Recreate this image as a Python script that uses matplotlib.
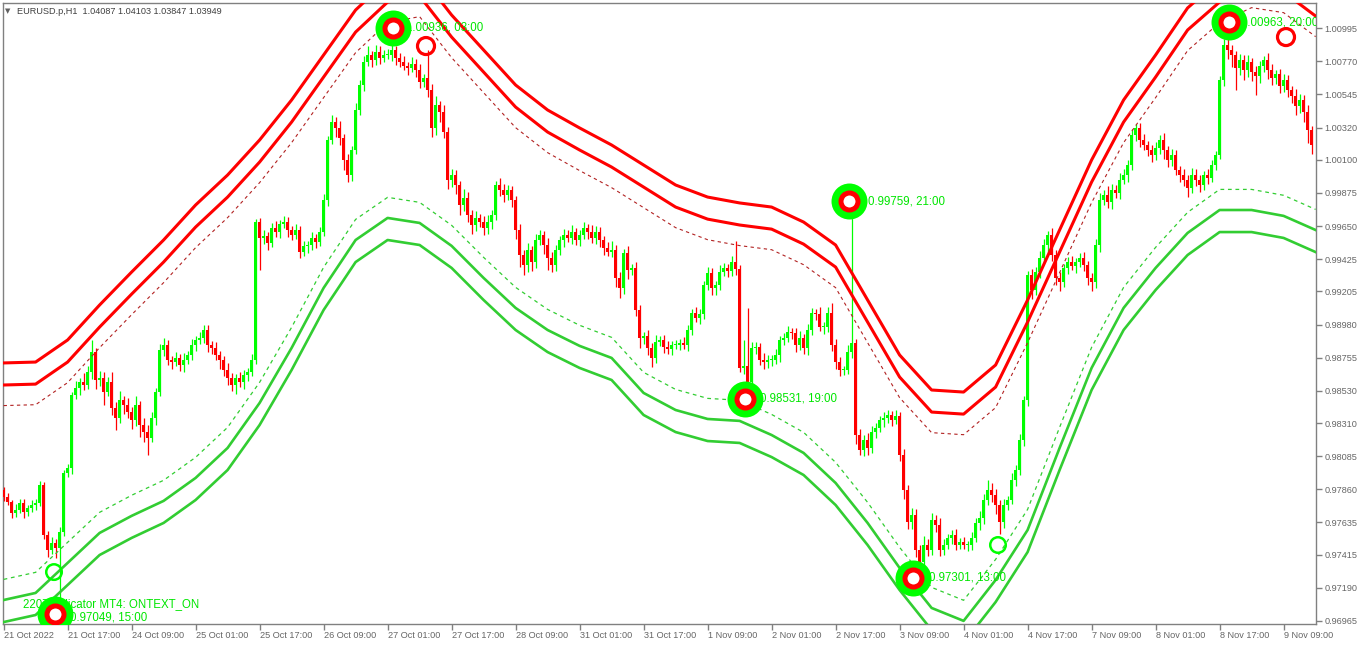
import matplotlib
matplotlib.use("Agg")
import matplotlib.pyplot as plt

# EURUSD H1 closes, one per bar starting 21 Oct 2022 01:00
closes = [
    0.97807, 0.97773, 0.97699, 0.97719, 0.97767, 0.97705, 0.97733, 0.97753, 0.97767, 0.97889, 0.97549, 0.97447, 0.97495, 0.97461, 0.97569, 0.97971,
    0.98005, 0.98501, 0.98549, 0.98589, 0.98569, 0.98657, 0.98793, 0.98603, 0.98617, 0.98521, 0.98589, 0.98413, 0.98345, 0.98467, 0.98433, 0.98385,
    0.98331, 0.98433, 0.98297, 0.98249, 0.98209, 0.98345, 0.98521, 0.98807, 0.98841, 0.98739, 0.98725, 0.98753, 0.98705, 0.98739, 0.98773, 0.98841,
    0.98875, 0.98889, 0.98943, 0.98841, 0.98821, 0.98773, 0.98739, 0.98671, 0.98617, 0.98569, 0.98617, 0.98589, 0.98637, 0.98657, 0.98739, 0.99677,
    0.99569, 0.99582, 0.99535, 0.99637, 0.99609, 0.99664, 0.99677, 0.99623, 0.99589, 0.99623, 0.99473, 0.99514, 0.99521, 0.99569, 0.99541, 0.99609,
    0.99827, 1.00235, 1.00357, 1.00317, 1.00249, 1.00099, 0.99997, 1.00167, 1.00439, 1.00609, 1.00765, 1.00813, 1.00779, 1.00833, 1.00793, 1.00813,
    1.00813, 1.00847, 1.00793, 1.00765, 1.00738, 1.00725, 1.00752, 1.00711, 1.00629, 1.00657, 1.00575, 1.00317, 1.00473, 1.00425, 1.00289, 0.99963,
    0.99997, 0.99929, 0.99793, 0.99841, 0.99725, 0.99657, 0.99705, 0.99677, 0.99637, 0.99677, 0.99725, 0.99929, 0.99895, 0.99861, 0.99895, 0.99827,
    0.99623, 0.99453, 0.99385, 0.99487, 0.99405, 0.99555, 0.99589, 0.99521, 0.99433, 0.99385, 0.99487, 0.99555, 0.99589, 0.99569, 0.99609, 0.99555,
    0.99589, 0.99637, 0.99609, 0.99569, 0.99609, 0.99555, 0.99501, 0.99473, 0.99487, 0.99297, 0.99229, 0.99467, 0.99351, 0.99365, 0.99079, 0.98889,
    0.98902, 0.98821, 0.98753, 0.98861, 0.98875, 0.98827, 0.98814, 0.98841, 0.98841, 0.98855, 0.98841, 0.98943, 0.99059, 0.99025, 0.99052, 0.99249,
    0.99331, 0.99229, 0.99249, 0.99337, 0.99365, 0.99344, 0.99405, 0.99358, 0.98685, 0.98698, 0.98589, 0.98821, 0.98827, 0.98739, 0.98725, 0.98739,
    0.98739, 0.98773, 0.98875, 0.98889, 0.98929, 0.98923, 0.98841, 0.98889, 0.98821, 0.98943, 0.99059, 0.99052, 0.98963, 0.98963, 0.99059, 0.98841,
    0.98725, 0.98671, 0.98671, 0.98793, 0.98855, 0.98229, 0.98127, 0.98195, 0.98141, 0.98249, 0.98277, 0.98331, 0.98345, 0.98365, 0.98331, 0.98358,
    0.98093, 0.97855, 0.97637, 0.97685, 0.97447, 0.97365, 0.97481, 0.97447, 0.97651, 0.97617, 0.97447, 0.97481, 0.97529, 0.97549, 0.97481, 0.97501,
    0.97481, 0.97481, 0.97529, 0.97631, 0.97665, 0.97787, 0.97855, 0.97821, 0.97753, 0.97637, 0.97753, 0.97787, 0.97923, 0.97991, 0.98195, 0.98467,
    0.99317, 0.99215, 0.99337, 0.99433, 0.99521, 0.99589, 0.99453, 0.99297, 0.99269, 0.99365, 0.99405, 0.99378, 0.99405, 0.99433, 0.99385, 0.99297,
    0.99269, 0.99521, 0.99827, 0.99861, 0.99813, 0.99895, 0.99875, 0.99963, 0.99997, 1.00065, 1.00269, 1.00317, 1.00235, 1.00201, 1.00167, 1.00133,
    1.00181, 1.00235, 1.00167, 1.00099, 1.00133, 1.00031, 0.99997, 0.99963, 0.99909, 0.99997, 0.99963, 0.99929, 0.99997, 0.99977, 1.00065, 1.00133,
    1.00643, 1.00881, 1.00847, 1.00813, 1.00725, 1.00779, 1.00711, 1.00765, 1.00697, 1.00670, 1.00738, 1.00779, 1.00711, 1.00657, 1.00684, 1.00602,
    1.00643, 1.00575, 1.00534, 1.00466, 1.00507, 1.00425, 1.00303, 1.00201,
]
first_open = 0.97855

# wick lengths in points (0.00001)
upper_wick = [
    20, 30, 15, 40, 25, 30, 20, 35, 30, 25, 20, 30, 40, 25, 35, 20,
    30, 20, 45, 30, 60, 40, 82, 30, 50, 40, 35, 70, 40, 60, 30, 45,
    35, 60, 30, 50, 45, 40, 30, 40, 50, 35, 30, 40, 25, 45, 30, 40,
    30, 40, 34, 35, 30, 40, 25, 30, 45, 35, 30, 40, 35, 30, 40, 20,
    30, 40, 25, 35, 45, 30, 40, 35, 30, 40, 30, 35, 30, 40, 30, 35,
    40, 30, 50, 35, 45, 30, 40, 30, 45, 35, 40, 60, 30, 50, 40, 35,
    40, 88, 30, 35, 40, 30, 45, 35, 40, 30, 190, 40, 60, 30, 50, 35,
    40, 35, 30, 60, 40, 35, 45, 30, 40, 50, 35, 30, 45, 40, 35, 30,
    30, 40, 35, 45, 30, 40, 35, 30, 45, 40, 35, 30, 40, 35, 45, 30,
    35, 40, 30, 45, 40, 35, 30, 40, 60, 35, 40, 30, 45, 30, 40, 35,
    30, 40, 35, 45, 30, 35, 40, 30, 35, 30, 40, 35, 30, 40, 35, 30,
    40, 35, 30, 45, 35, 30, 40, 143, 30, 180, 394, 40, 35, 30, 45, 35,
    35, 40, 30, 35, 40, 30, 35, 45, 30, 40, 35, 30, 50, 35, 40, 70,
    40, 35, 30, 45, 904, 30, 40, 35, 45, 40, 35, 30, 40, 35, 30, 40,
    30, 40, 35, 45, 40, 35, 60, 40, 50, 35, 45, 40, 30, 35, 40, 30,
    35, 30, 40, 35, 45, 40, 70, 45, 40, 35, 40, 30, 45, 35, 40, 30,
    30, 40, 35, 45, 40, 30, 45, 35, 40, 30, 35, 40, 30, 35, 40, 30,
    35, 40, 45, 35, 60, 40, 35, 45, 40, 35, 40, 30, 35, 40, 30, 35,
    40, 35, 45, 30, 40, 35, 30, 40, 35, 45, 40, 35, 30, 40, 35, 30,
    30, 40, 82, 35, 30, 40, 35, 45, 30, 40, 35, 30, 45, 40, 30, 35,
    40, 35, 30, 45, 40, 35, 45, 30,
]
lower_wick = [
    25, 20, 35, 30, 20, 40, 30, 25, 35, 20, 30, 45, 25, 70, 374, 30,
    25, 40, 30, 50, 35, 30, 45, 60, 40, 90, 30, 50, 80, 35, 60, 40,
    60, 40, 80, 70, 116, 30, 45, 30, 40, 35, 50, 30, 40, 45, 30, 35,
    40, 30, 35, 50, 40, 35, 60, 40, 50, 40, 60, 35, 50, 40, 30, 25,
    218, 40, 50, 30, 35, 40, 30, 45, 35, 30, 40, 30, 45, 35, 40, 30,
    30, 40, 30, 60, 45, 70, 50, 40, 30, 35, 40, 30, 45, 35, 40, 30,
    30, 40, 50, 35, 30, 45, 30, 50, 40, 35, 45, 60, 50, 70, 40, 60,
    45, 60, 70, 40, 50, 60, 40, 35, 50, 40, 45, 35, 40, 50, 35, 45,
    60, 80, 70, 45, 60, 40, 35, 60, 80, 50, 40, 35, 45, 30, 40, 35,
    40, 30, 45, 35, 40, 50, 45, 30, 35, 60, 70, 40, 60, 35, 40, 70,
    40, 50, 60, 35, 30, 40, 35, 40, 30, 35, 30, 40, 35, 30, 40, 35,
    35, 45, 50, 35, 30, 40, 35, 40, 25, 40, 88, 30, 40, 35, 50, 40,
    40, 30, 45, 35, 30, 40, 50, 35, 40, 45, 35, 40, 30, 45, 35, 40,
    50, 40, 35, 30, 40, 60, 35, 40, 50, 35, 40, 30, 45, 35, 40, 30,
    40, 60, 50, 45, 50, 60, 55, 40, 35, 45, 40, 35, 30, 40, 35, 30,
    30, 40, 35, 30, 45, 40, 35, 50, 60, 80, 40, 35, 30, 40, 35, 40,
    40, 60, 35, 40, 30, 45, 40, 50, 60, 35, 40, 30, 45, 35, 40, 50,
    60, 40, 50, 35, 40, 45, 35, 40, 30, 45, 35, 40, 50, 35, 40, 45,
    35, 40, 60, 45, 40, 35, 50, 40, 60, 35, 40, 50, 35, 40, 30, 35,
    30, 40, 60, 80, 150, 50, 70, 45, 60, 130, 50, 40, 60, 45, 40, 50,
    40, 50, 45, 60, 50, 70, 90, 60,
]

# outer band lines, sampled every 8 bars
band_bars = list(range(0, 329, 8))
upper_band = [0.98719, 0.98725, 0.98875, 0.99113, 0.99337, 0.99555, 0.99793, 0.99997, 1.00235, 1.00507,
              1.00813, 1.01119, 1.01323, 1.01364, 1.01085, 1.00847, 1.00609, 1.00439, 1.00317, 1.00201,
              1.00065, 0.99929, 0.99847, 0.99807, 0.99779, 0.99677, 0.99521, 0.99147, 0.98773, 0.98535,
              0.98521, 0.98705, 0.99147, 0.99623, 1.00099, 1.00507, 1.00813, 1.01133, 1.01323, 1.01425,
              1.01391, 1.01228]
lower_band = [0.96957, 0.97005, 0.97209, 0.97413, 0.97529, 0.97631, 0.97787, 0.97991, 0.98297, 0.98671,
              0.99079, 0.99405, 0.99555, 0.99521, 0.99365, 0.99147, 0.98943, 0.98793, 0.98685, 0.98603,
              0.98365, 0.98249, 0.98188, 0.98175, 0.98079, 0.97957, 0.97753, 0.97481, 0.97175, 0.96903,
              0.96815, 0.97093, 0.97433, 0.97991, 0.98535, 0.98943, 0.99215, 0.99453, 0.99609, 0.99609,
              0.99569, 0.99473]
inner_gap = 0.00150
dotted_gap = 0.00290

# signal markers and their captions
sig_bar = [97.35, 211.35, 185.35, 227.35, 12.85, 306.35]
sig_price = [1.00997, 0.99820, 0.98474, 0.97257, 0.97012, 1.01037]
sig_text = ["1.00936, 03:00", "0.99759, 21:00", "0.98531, 19:00", "0.97301, 13:00",
            "0.97049, 15:00", "1.00963, 20:00"]
sig_text_bar = [100.6, 216.1, 189.1, 231.35, 16.6, 309.35]
sig_text_price = [1.00997, 0.99820, 0.98474, 0.97257, 0.96985, 1.01037]
red_ring_bar = [105.6, 320.6]
red_ring_price = [1.00874, 1.00935]
green_ring_bar = [12.6, 248.6]
green_ring_price = [0.97297, 0.97481]

tick_bars = list(range(0, 321, 16))
tick_labels = ["21 Oct 2022", "21 Oct 17:00", "24 Oct 09:00", "25 Oct 01:00", "25 Oct 17:00",
               "26 Oct 09:00", "27 Oct 01:00", "27 Oct 17:00", "28 Oct 09:00", "31 Oct 01:00",
               "31 Oct 17:00", "1 Nov 09:00", "2 Nov 01:00", "2 Nov 17:00", "3 Nov 09:00",
               "4 Nov 01:00", "4 Nov 17:00", "7 Nov 09:00", "8 Nov 01:00", "8 Nov 17:00", "9 Nov 09:00"]
price_labels = ["1.00995", "1.00770", "1.00545", "1.00320", "1.00100", "0.99875", "0.99650",
                "0.99425", "0.99205", "0.98980", "0.98755", "0.98530", "0.98310", "0.98085",
                "0.97860", "0.97635", "0.97415", "0.97190", "0.96965"]

plt.rcParams['font.family'] = ['Liberation Sans', 'DejaVu Sans']
GREEN = "#00ff00"
RED = "#ff0000"
LINE_GREEN = "#32cd32"
GRAY = "#808080"

fig = plt.figure(figsize=(13.62, 6.46), dpi=100)
ax = fig.add_axes([3 / 1362, 22 / 646, 1313 / 1362, 621.5 / 646])
ax.set_xlim(-0.15, 328.1)
ax.set_ylim(0.969438, 1.01170)

# candles
opens = [first_open] + closes[:-1]
for i, (o, c) in enumerate(zip(opens, closes)):
    col = GREEN if c >= o else RED
    hi = max(o, c) + upper_wick[i] / 1e5
    lo = min(o, c) - lower_wick[i] / 1e5
    ax.vlines(i, lo, hi, color=col, lw=0.9, zorder=3)
    ax.bar(i, max(abs(c - o), 0.00005), bottom=min(o, c), width=0.75,
           color=col, linewidth=0, zorder=3)

# bands
up_inner = [v - inner_gap for v in upper_band]
up_dot = [v - dotted_gap for v in upper_band]
lo_inner = [v + inner_gap for v in lower_band]
lo_dot = [v + dotted_gap for v in lower_band]
ax.plot(band_bars, upper_band, color=RED, lw=2.2, zorder=4)
ax.plot(band_bars, up_inner, color=RED, lw=2.2, zorder=4)
ax.plot(band_bars, up_dot, color="#b22222", lw=0.8, ls=(0, (3, 3)), zorder=4)
ax.plot(band_bars, lower_band, color=LINE_GREEN, lw=1.9, zorder=4)
ax.plot(band_bars, lo_inner, color=LINE_GREEN, lw=1.9, zorder=4)
ax.plot(band_bars, lo_dot, color=LINE_GREEN, lw=0.9, ls=(0, (3, 3)), zorder=4)

# captions first, markers drawn over them
ax.text(4.85, 0.97080, "2207 Indicator MT4: ONTEXT_ON", color="#00e600", fontsize=8.3,
        va="center", ha="left", zorder=5, clip_on=True)
for b, p, t in zip(sig_text_bar, sig_text_price, sig_text):
    ax.text(b, p, t, color="#00e600", fontsize=8.3, va="center", ha="left",
            zorder=5, clip_on=True)
ax.scatter(sig_bar, sig_price, s=671, color=GREEN, linewidths=0, zorder=6)
ax.scatter(sig_bar, sig_price, s=150, facecolor="white", edgecolor=RED, linewidths=3.6, zorder=7)
ax.scatter(red_ring_bar, red_ring_price, s=150, facecolor="none", edgecolor=RED, linewidths=2.3, zorder=7)
ax.scatter(green_ring_bar, green_ring_price, s=125, facecolor="none", edgecolor=GREEN, linewidths=1.8, zorder=7)

# axes styling
for sp in ax.spines.values():
    sp.set_color(GRAY)
    sp.set_linewidth(1)
ax.yaxis.tick_right()
ax.set_yticks([float(s) for s in price_labels])
ax.set_yticklabels(price_labels)
ax.set_xticks(tick_bars)
ax.set_xticklabels(tick_labels)
for lab in ax.get_xticklabels():
    lab.set_ha("left")
ax.tick_params(axis="y", direction="out", length=4, width=1, color=GRAY, pad=2,
               labelsize=6.6, labelcolor="#666666")
ax.tick_params(axis="x", direction="out", length=4, width=1, color=GRAY, pad=1,
               labelsize=6.6, labelcolor="#666666")

fig.text(5 / 1362, 1 - 11 / 646, "\u25bc", fontsize=5, color="#606060", va="center",
         family=["DejaVu Sans"])
fig.text(17 / 1362, 1 - 11 / 646, "EURUSD.p,H1  1.04087 1.04103 1.03847 1.03949",
         fontsize=6.6, color="#404040", va="center")

fig.savefig("out.png", dpi=100, facecolor="white")
